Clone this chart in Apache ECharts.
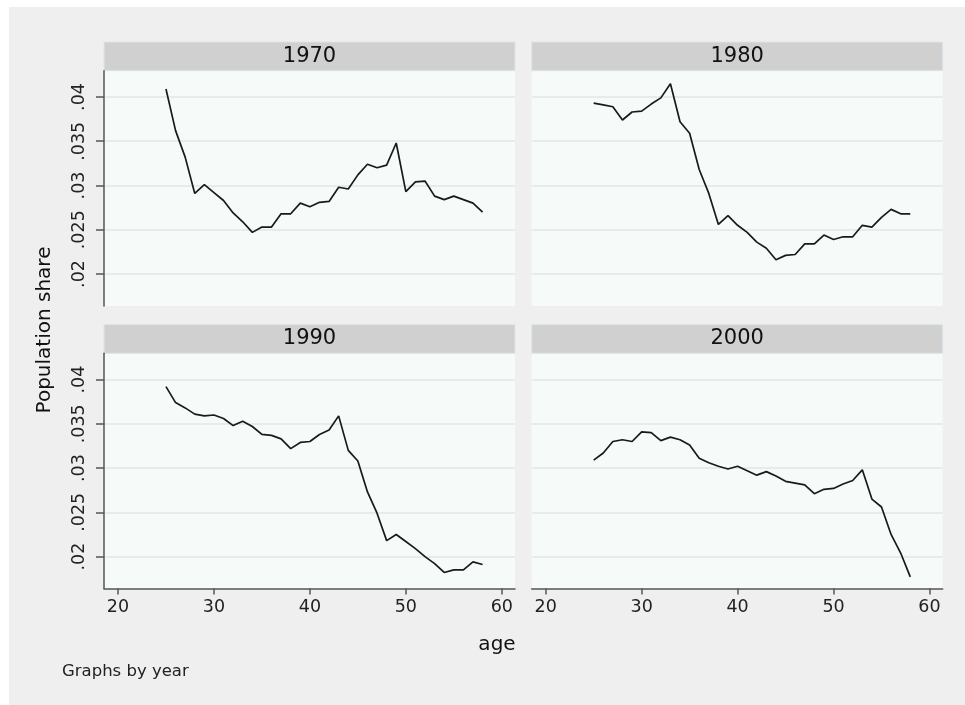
<!DOCTYPE html>
<html><head><meta charset="utf-8">
<script src="https://cdn.jsdelivr.net/npm/echarts@6/dist/echarts.min.js"></script>
<style>html,body{margin:0;padding:0;background:#fff}#c{width:965px;height:705px}</style>
</head><body><div id="c"></div><script>
// ---- data ----
const ages = [25,26,27,28,29,30,31,32,33,34,35,36,37,38,39,40,41,42,43,44,45,46,47,48,49,50,51,52,53,54,55,56,57,58];
const years = ['1970','1980','1990','2000'];
const share1970 = [0.0409,0.0362,0.0332,0.0291,0.0301,0.0292,0.0283,0.0269,0.0259,0.0247,0.0253,0.0253,0.0268,0.0268,0.0280,0.0276,0.0281,0.0282,0.0298,0.0296,0.0312,0.0324,0.0320,0.0323,0.0348,0.0293,0.0304,0.0305,0.0288,0.0284,0.0288,0.0284,0.0280,0.0270];
const share1980 = [0.0393,0.0391,0.0389,0.0374,0.0383,0.0384,0.0392,0.0399,0.0415,0.0372,0.0359,0.0318,0.0291,0.0256,0.0266,0.0255,0.0247,0.0236,0.0229,0.0216,0.0221,0.0222,0.0234,0.0234,0.0244,0.0239,0.0242,0.0242,0.0255,0.0253,0.0264,0.0273,0.0268,0.0268];
const share1990 = [0.0392,0.0374,0.0368,0.0361,0.0359,0.0360,0.0356,0.0348,0.0353,0.0347,0.0338,0.0337,0.0333,0.0322,0.0329,0.0330,0.0338,0.0343,0.0359,0.0320,0.0308,0.0273,0.0249,0.0218,0.0225,0.0217,0.0209,0.0200,0.0192,0.0182,0.0185,0.0185,0.0194,0.0191];
const share2000 = [0.0309,0.0317,0.0330,0.0332,0.0330,0.0341,0.0340,0.0331,0.0335,0.0332,0.0326,0.0311,0.0306,0.0302,0.0299,0.0302,0.0297,0.0292,0.0296,0.0291,0.0285,0.0283,0.0281,0.0271,0.0276,0.0277,0.0282,0.0286,0.0298,0.0265,0.0256,0.0225,0.0204,0.0177];
const yTicks = [0.02,0.025,0.03,0.035,0.04];
const xTicks = [20,30,40,50,60];
const seriesValues = [share1970, share1980, share1990, share2000];

// ---- layout ----
const FONT = 'DejaVu Sans';
const colsLeft = [104, 531.7];
const rowsTop = [70.7, 353.3];
const W = 411, H = 235.3;
const headerH = 28.7;

const grids = [], xAxes = [], yAxes = [], series = [], graphics = [];
graphics.push({type:'rect', shape:{x:9,y:7,width:956,height:698}, style:{fill:'#efefef'}, z:-10, silent:true});

for (let i = 0; i < 4; i++) {
  const r = Math.floor(i/2), c = i % 2;
  const left = colsLeft[c], top = rowsTop[r];
  grids.push({left:left, top:top, width:W, height:H, show:true, backgroundColor:'#f6faf8', borderWidth:0, containLabel:false});
  const isBottom = r === 1, isLeft = c === 0;
  xAxes.push({
    type:'value', gridIndex:i, min:18.54, max:61.38,
    axisLine:{show:isBottom, onZero:false, lineStyle:{color:'#555', width:1.5}},
    axisTick:{show:isBottom, length:6, customValues:xTicks, lineStyle:{color:'#555', width:1.5}},
    axisLabel:{show:isBottom, customValues:xTicks, color:'#222', fontFamily:FONT, fontSize:17.5, margin:10},
    splitLine:{show:false}
  });
  yAxes.push({
    type:'value', gridIndex:i, min:0.01638, max:0.04297,
    axisLine:{show:isLeft, lineStyle:{color:'#555', width:1.5}},
    axisTick:{show:isLeft, length:8, customValues:yTicks, lineStyle:{color:'#555', width:1.5}},
    axisLabel:{show:isLeft, customValues:yTicks, rotate:90, color:'#222', fontFamily:FONT, fontSize:17.5, margin:16,
      formatter: v => String(+v.toFixed(3)).replace(/^0/, '')},
    splitLine:{show:true, lineStyle:{color:'#e3e7e5', width:1.5}}
  });
  series.push({
    type:'line', xAxisIndex:i, yAxisIndex:i, showSymbol:false, symbol:'none',
    lineStyle:{color:'#1a1a1a', width:1.7}, animation:false,
    data: ages.map((a,k)=>[a, seriesValues[i][k]])
  });
  graphics.push({type:'rect', shape:{x:left, y:top-headerH, width:W, height:headerH},
    style:{fill:'#d0d0d0', stroke:'#dbe6ea', lineWidth:1}, silent:true});
  graphics.push({type:'text', x:left+W/2, y:top-headerH/2, style:{text:years[i], font:'21px "'+FONT+'"', fill:'#111', align:'center', verticalAlign:'middle'}, silent:true});
}
graphics.push({type:'text', x:45, y:330, rotation:Math.PI/2, style:{text:'Population share', font:'20px "'+FONT+'"', fill:'#111', align:'center', verticalAlign:'middle'}, silent:true});
graphics.push({type:'text', x:497, y:645, style:{text:'age', font:'20px "'+FONT+'"', fill:'#111', align:'center', verticalAlign:'middle'}, silent:true});
graphics.push({type:'text', x:62, y:672, style:{text:'Graphs by year', font:'16.5px "'+FONT+'"', fill:'#222', align:'left', verticalAlign:'middle'}, silent:true});

const chart = echarts.init(document.getElementById('c'), null, {renderer:'canvas'});
chart.setOption({animation:false, grid:grids, xAxis:xAxes, yAxis:yAxes, series:series, graphic:graphics});
</script></body></html>
